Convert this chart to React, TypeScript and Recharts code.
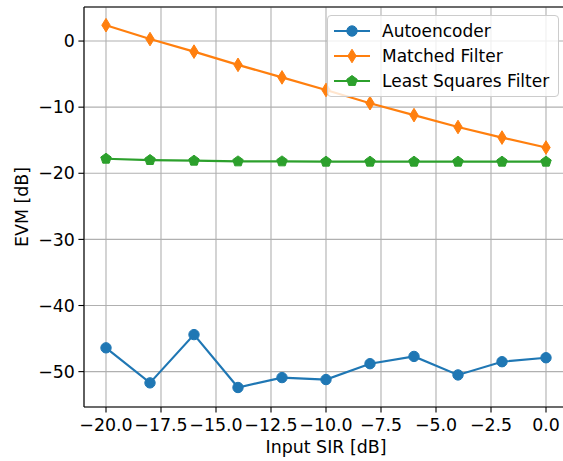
import {
  CartesianGrid,
  Label,
  Line,
  LineChart,
  ReferenceLine,
  XAxis,
  YAxis,
} from "recharts";

const sir = [-20, -18, -16, -14, -12, -10, -8, -6, -4, -2, 0];
const autoencoder = [-46.4, -51.7, -44.4, -52.4, -50.9, -51.2, -48.8, -47.7, -50.5, -48.5, -47.9];
const matchedFilter = [2.4, 0.3, -1.6, -3.6, -5.5, -7.4, -9.4, -11.2, -13.0, -14.6, -16.1];
const leastSquares = [-17.8, -18.0, -18.1, -18.2, -18.2, -18.25, -18.25, -18.25, -18.25, -18.25, -18.25];

const xTicks = [-20, -17.5, -15, -12.5, -10, -7.5, -5, -2.5, 0];
const yTicks = [-50, -40, -30, -20, -10, 0];

const BLUE = "#1f77b4";
const ORANGE = "#ff7f0e";
const GREEN = "#2ca02c";
const FONT = "'DejaVu Sans', sans-serif";
const FS = 17.4;

const data = sir.map((x, i) => ({
  x,
  ae: autoencoder[i],
  mf: matchedFilter[i],
  ls: leastSquares[i],
}));

const minus = (s: string) => s.replace("-", "\u2212");

function circle(cx: number, cy: number, color: string, key?: string | number) {
  return <circle key={key} cx={cx} cy={cy} r={5.2} fill={color} stroke={color} />;
}

function diamond(cx: number, cy: number, color: string, key?: string | number) {
  const h = 6.8;
  const w = 4.2;
  return (
    <path
      key={key}
      d={`M${cx},${cy - h}L${cx + w},${cy}L${cx},${cy + h}L${cx - w},${cy}Z`}
      fill={color}
      stroke={color}
    />
  );
}

function pentagon(cx: number, cy: number, color: string, key?: string | number) {
  const r = 5.5;
  const pts = [0, 1, 2, 3, 4]
    .map((k) => {
      const a = -Math.PI / 2 + (k * 2 * Math.PI) / 5;
      return `${cx + r * Math.cos(a)},${cy + r * Math.sin(a)}`;
    })
    .join(" ");
  return <polygon key={key} points={pts} fill={color} stroke={color} />;
}

type Marker = typeof circle;

const legendItems: { name: string; color: string; marker: Marker }[] = [
  { name: "Autoencoder", color: BLUE, marker: circle },
  { name: "Matched Filter", color: ORANGE, marker: diamond },
  { name: "Least Squares Filter", color: GREEN, marker: pentagon },
];

function dotFor(marker: Marker, color: string) {
  return (props: any) => marker(props.cx, props.cy, color, props.index);
}

export default function App() {
  return (
    <div
      style={{
        position: "absolute",
        left: 0,
        top: 0,
        width: 563,
        height: 461,
        overflow: "hidden",
        background: "#fff",
        fontFamily: FONT,
      }}
    >
      <LineChart
        width={575}
        height={461}
        data={data}
        margin={{ top: 7, right: 7, bottom: 0, left: 0 }}
      >
        <CartesianGrid stroke="#b0b0b0" strokeWidth={1.1} />
        <XAxis
          dataKey="x"
          type="number"
          domain={[-21, 1]}
          ticks={xTicks}
          tickFormatter={(v: number) => minus(v.toFixed(1))}
          height={54}
          tickSize={5.6}
          tickMargin={6}
          tick={{ fill: "#000", fontSize: FS, fontFamily: FONT }}
          tickLine={{ stroke: "#000", strokeWidth: 1.1 }}
          axisLine={{ stroke: "#000", strokeWidth: 1.1 }}
          interval={0}
        >
          <Label
            content={(p: any) => {
              const vb = p.viewBox;
              return (
                <text
                  x={vb.x + vb.width / 2}
                  y={453}
                  textAnchor="middle"
                  fontSize={FS}
                  fontFamily={FONT}
                  fill="#000"
                >
                  Input SIR [dB]
                </text>
              );
            }}
          />
        </XAxis>
        <YAxis
          type="number"
          domain={[-55.35, 5.15]}
          ticks={yTicks}
          tickFormatter={(v: number) => minus(String(v))}
          width={84}
          tickSize={5.6}
          tickMargin={3.5}
          tick={{ fill: "#000", fontSize: FS, fontFamily: FONT }}
          tickLine={{ stroke: "#000", strokeWidth: 1.1 }}
          axisLine={{ stroke: "#000", strokeWidth: 1.1 }}
          interval={0}
        >
          <Label
            content={(p: any) => {
              const vb = p.viewBox;
              const cy = vb.y + vb.height / 2;
              return (
                <text
                  x={28}
                  y={cy}
                  transform={`rotate(-90, 28, ${cy})`}
                  textAnchor="middle"
                  fontSize={FS}
                  fontFamily={FONT}
                  fill="#000"
                >
                  EVM [dB]
                </text>
              );
            }}
          />
        </YAxis>
        <ReferenceLine y={5.15} stroke="#000" strokeWidth={1.1} />
        <Line
          dataKey="ae"
          stroke={BLUE}
          strokeWidth={2.2}
          dot={dotFor(circle, BLUE)}
          activeDot={false}
          isAnimationActive={false}
        />
        <Line
          dataKey="mf"
          stroke={ORANGE}
          strokeWidth={2.2}
          dot={dotFor(diamond, ORANGE)}
          activeDot={false}
          isAnimationActive={false}
        />
        <Line
          dataKey="ls"
          stroke={GREEN}
          strokeWidth={2.2}
          dot={dotFor(pentagon, GREEN)}
          activeDot={false}
          isAnimationActive={false}
        />
      </LineChart>
      <div
        style={{
          position: "absolute",
          left: 327,
          top: 15,
          width: 232,
          height: 82,
          boxSizing: "border-box",
          background: "rgba(255,255,255,0.8)",
          border: "1px solid #cccccc",
          borderRadius: 4,
        }}
      >
        {legendItems.map((item, i) => (
          <div
            key={item.name}
            style={{
              position: "absolute",
              left: 5,
              top: 3 + i * 25,
              height: 24,
              display: "flex",
              alignItems: "center",
            }}
          >
            <svg width={38} height={24}>
              <line x1={1} y1={12} x2={37} y2={12} stroke={item.color} strokeWidth={2.2} />
              {item.marker(19, 12, item.color)}
            </svg>
            <span
              style={{
                marginLeft: 11,
                fontSize: 17,
                fontFamily: FONT,
                color: "#000",
                whiteSpace: "nowrap",
              }}
            >
              {item.name}
            </span>
          </div>
        ))}
      </div>
    </div>
  );
}
